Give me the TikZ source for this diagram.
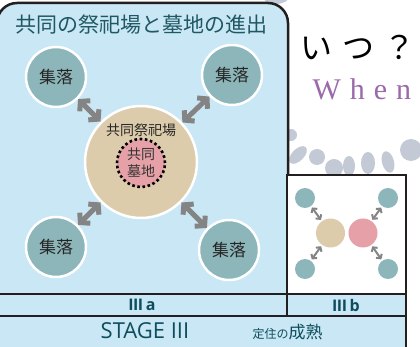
\documentclass[tikz,border=0pt]{standalone}
\usepackage{fontspec}
\setmainfont{Noto Sans CJK JP}
\newfontfamily\latinsans{Open Sans}
\newfontfamily\whenfont[LetterSpace=30]{Liberation Serif}
\usetikzlibrary{arrows.meta}

\definecolor{panelblue}{HTML}{C9E7F4}
\definecolor{framedark}{HTML}{231F20}
\definecolor{settlement}{HTML}{8CB6B9}
\definecolor{ritual}{HTML}{DDCCAC}
\definecolor{grave}{HTML}{E5A1A7}
\definecolor{arrowgray}{HTML}{848484}
\definecolor{titleteal}{HTML}{1F5862}
\definecolor{stageteal}{HTML}{0F4D5C}
\definecolor{pebble}{HTML}{C3CAD5}
\definecolor{whenpurple}{HTML}{9A6AAA}

\newcommand{\fs}[1]{\fontsize{#1}{#1}\selectfont}

\begin{document}
\begin{tikzpicture}[x=1pt,y=-1pt,
  frame/.style={draw=framedark,line width=2.5pt},
  village/.style={circle,fill=settlement,draw=white,line width=2.5pt,minimum size=60pt,inner sep=0pt,font=\fs{17},text=black!85},
  dot/.style={circle,fill=settlement,minimum size=20pt,inner sep=0pt},
  disc/.style={circle,minimum size=29pt,inner sep=0pt},
  twoway/.style={arrowgray,line width=5pt,{Straight Barb[length=6.5pt,width=15pt]}-{Straight Barb[length=6.5pt,width=15pt]}},
  smallway/.style={arrowgray,line width=2pt,shorten <=1.5pt,shorten >=1.5pt,{Straight Barb[length=3pt,width=7pt]}-{Straight Barb[length=3pt,width=7pt]}}]
  \useasboundingbox (0,0) rectangle (420,347);

  % pebbles behind the panels
  \fill[pebble] (276,-5) ellipse [x radius=14, y radius=9];
  \fill[pebble] (291,135) circle (6);
  \fill[pebble,rotate around={45:(298,155)}] (298,155) ellipse [x radius=11, y radius=6];
  \fill[pebble] (317,157) circle (8);
  \fill[pebble] (334,168) circle (9);
  \fill[pebble] (349,166) ellipse [x radius=6, y radius=10];
  \fill[pebble] (368,163) ellipse [x radius=7, y radius=11];
  \fill[pebble,rotate around={15:(388,162)}] (388,162) ellipse [x radius=6, y radius=11];
  \fill[pebble] (411,150) circle (11);

  \draw[frame,fill=panelblue,rounded corners=20pt] (-3,3) rectangle (288,320);
  \draw[frame,fill=white] (287,175) rectangle (406,294);
  \draw[frame,fill=panelblue] (-3,294) rectangle (287,316);
  \draw[frame,fill=panelblue] (287,294) rectangle (406,316);
  \draw[frame,fill=panelblue] (-3,316) rectangle (406,352);

  \node[font=\fs{21},text=titleteal] (title) at (141,25) {共同の祭祀場と墓地の進出};

  \node[circle,fill=ritual,draw=white,line width=2.5pt,minimum size=112pt,inner sep=0pt] (hub) at (141,162) {};
  \node[font=\fs{14},text=black!85] (hublabel) at (141,130) {共同祭祀場};
  \node[circle,fill=grave,draw=black,line width=2.6pt,dash pattern=on 2.6pt off 2.6pt,minimum size=48pt,inner sep=0pt,
        align=center,font=\fontsize{14}{17}\selectfont,text=black!80] (grave) at (141,163) {共同\\墓地};

  \foreach \name/\x/\y in {v1/56/77, v2/232/75, v3/56/247, v4/229/250}
    \node[village] (\name) at (\x,\y) {集落};
  \foreach \name in {v1,v2,v3,v4}
    \draw[twoway] (\name) -- (hub);

  \node[anchor=west,font=\fs{32}\addfontfeatures{LetterSpace=30}] (askwhen) at (297,47) {いつ？};
  \node[anchor=west,font=\whenfont\fs{30},text=whenpurple] (when) at (309,89) {When};

  \foreach \name/\x/\y in {sa/305/198, sb/388/198, sc/305/269, sd/388/269}
    \node[dot] (\name) at (\x,\y) {};
  \node[disc,fill=ritual] (sr) at (330.5,233) {};
  \node[disc,fill=grave] (sg) at (363,233) {};
  \draw[smallway] (sa) -- (sr);
  \draw[smallway] (sc) -- (sr);
  \draw[smallway] (sb) -- (sg);
  \draw[smallway] (sd) -- (sg);

  \node[font=\latinsans\bfseries\fs{16},text=stageteal] (phasea) at (142,305) {I\kern-.5ptI\kern-.5ptI\,a};
  \node[font=\latinsans\bfseries\fs{16},text=stageteal] (phaseb) at (346,305) {I\kern-.5ptI\kern-.5ptI\,b};
  \node[font=\latinsans\fs{22},text=stageteal] (stage) at (145,331) {STAGE III};
  \node[anchor=west,text=stageteal] (settle) at (249,332) {{\fs{12}定住の}{\fs{17}成熟}};
\end{tikzpicture}
\end{document}
